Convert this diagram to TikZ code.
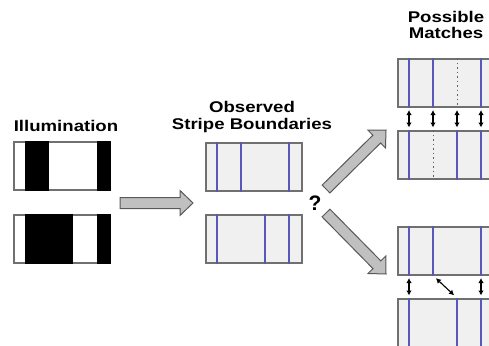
\documentclass[tikz,border=0pt]{standalone}
\usepackage{fontspec}
\setsansfont{Liberation Sans}
\usetikzlibrary{calc, arrows.meta}

\definecolor{boundblue}{RGB}{88,88,184}
\definecolor{edgegray}{RGB}{112,112,112}
\definecolor{paneltint}{RGB}{240,240,240}
\definecolor{arrowtint}{RGB}{192,192,192}

\tikzset{
  codebox/.style={draw=edgegray, line width=1.5pt, fill=white, minimum width=96pt,
    minimum height=48pt, anchor=north west, inner sep=0pt},
  panelbox/.style={codebox, fill=paneltint},
  boundary/.style={draw=boundblue, line width=1.5pt},
  ghost/.style={draw=boundblue, line width=1pt, dash pattern=on 1.5pt off 3pt},
  matcharrow/.style={{Latex[length=5pt,width=5.5pt]}-{Latex[length=5pt,width=5.5pt]},
    line width=1.1pt, shorten >=2.5pt, shorten <=2.5pt},
  heading/.style={font=\sffamily\bfseries\fontsize{15.5}{16.5}\selectfont, align=center,
    inner sep=0pt, anchor=base, xscale=1.2, transform shape},
  blockarrow/.style={draw=black!65, fill=arrowtint, line width=1pt, line join=miter}
}

% fat grey arrow from #1 to #2
\newcommand\bigarrow[2]{%
  \coordinate (neck) at ($(#2)!13pt!(#1)$);
  \filldraw[blockarrow] ($(#1)!5.5pt!90:(#2)$) -- ($(neck)!5.5pt!-90:(#1)$)
    -- ($(neck)!12.5pt!-90:(#1)$) -- (#2) -- ($(neck)!12.5pt!90:(#1)$)
    -- ($(neck)!5.5pt!90:(#1)$) -- ($(#1)!5.5pt!-90:(#2)$) -- cycle;}

\begin{document}
\begin{tikzpicture}[x=1pt, y=-1pt]
  \useasboundingbox (0,0) rectangle (489,345);
  \clip (0,0) rectangle (489,345);

  % headings (base = last line)
  \node[heading] (illum) at (66,131) {Illumination};
  \node[heading] (observed) at (252,129) {Observed\\Stripe Boundaries};
  \node[heading] (possible) at (446,39) {Possible\\Matches};
  \node[font=\sffamily\bfseries\fontsize{21}{21}\selectfont, inner sep=0pt] (q) at (315,203) {?};

  % illumination patterns
  \node[codebox] (ill1) at (13,141) {};
  \node[codebox] (ill2) at (13,214) {};
  \fill ($(ill1.north west)+(12,0)$) rectangle ($(ill1.south west)+(36,0)$);
  \fill ($(ill1.north west)+(84,0)$) rectangle (ill1.south east);
  \fill ($(ill2.north west)+(12,0)$) rectangle ($(ill2.south west)+(60,0)$);
  \fill ($(ill2.north west)+(84,0)$) rectangle (ill2.south east);

  % observed boundaries
  \node[panelbox] (obs1) at (205,142) {};
  \node[panelbox] (obs2) at (205,214) {};
  \foreach \s in {12,36,84}
    \draw[boundary] ($(obs1.north west)+(\s,0)$) -- ($(obs1.south west)+(\s,0)$);
  \foreach \s in {12,60,84}
    \draw[boundary] ($(obs2.north west)+(\s,0)$) -- ($(obs2.south west)+(\s,0)$);

  % first possible match
  \node[panelbox] (mA1) at (397,58) {};
  \node[panelbox] (mA2) at (397,130) {};
  \foreach \s in {12,36,84}
    \draw[boundary] ($(mA1.north west)+(\s,0)$) -- ($(mA1.south west)+(\s,0)$);
  \draw[ghost] ($(mA1.north west)+(60,0)$) -- ($(mA1.south west)+(60,0)$);
  \foreach \s in {12,60,84}
    \draw[boundary] ($(mA2.north west)+(\s,0)$) -- ($(mA2.south west)+(\s,0)$);
  \draw[ghost] ($(mA2.north west)+(36,0)$) -- ($(mA2.south west)+(36,0)$);
  \foreach \s in {12,36,60,84}
    \draw[matcharrow] ($(mA1.south west)+(\s,0)$) -- ($(mA2.north west)+(\s,0)$);

  % second possible match
  \node[panelbox] (mB1) at (397,226) {};
  \node[panelbox] (mB2) at (397,298) {};
  \foreach \s in {12,36,84}
    \draw[boundary] ($(mB1.north west)+(\s,0)$) -- ($(mB1.south west)+(\s,0)$);
  \foreach \s in {12,60,84}
    \draw[boundary] ($(mB2.north west)+(\s,0)$) -- ($(mB2.south west)+(\s,0)$);
  \foreach \s in {12,84}
    \draw[matcharrow] ($(mB1.south west)+(\s,0)$) -- ($(mB2.north west)+(\s,0)$);
  \draw[matcharrow, shorten >=4pt, shorten <=4pt]
    ($(mB1.south west)+(36,0)$) -- ($(mB2.north west)+(60,0)$);

  % fat arrows
  \coordinate (h0) at (120,203);
  \coordinate (h1) at (193,203);
  \coordinate (u0) at (326,189);
  \coordinate (u1) at (386,130);
  \coordinate (d0) at (326,213);
  \coordinate (d1) at (386,274);
  \bigarrow{h0}{h1}
  \bigarrow{u0}{u1}
  \bigarrow{d0}{d1}
\end{tikzpicture}
\end{document}
